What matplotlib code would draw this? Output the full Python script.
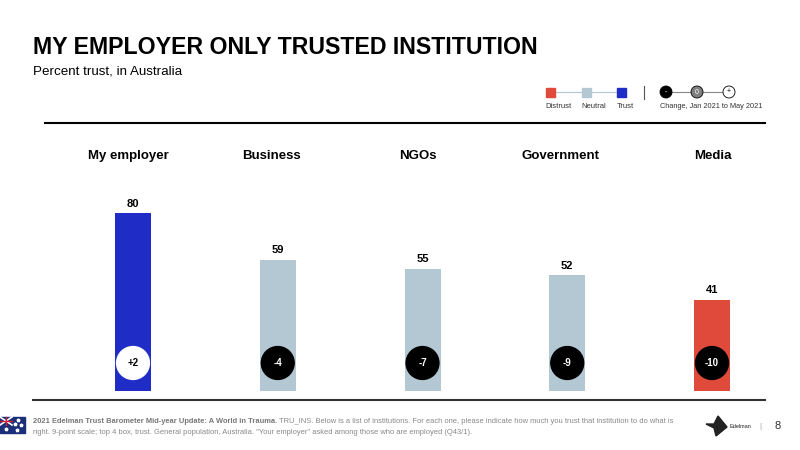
import numpy as np
import matplotlib.pyplot as plt
from matplotlib.patches import Rectangle, Circle, Polygon

plt.rcParams['font.family'] = ['Liberation Sans', 'DejaVu Sans']

categories = ['My employer', 'Business', 'NGOs', 'Government', 'Media']
trust = [80, 59, 55, 52, 41]
change = [2, -4, -7, -9, -10]
level = ['Trust', 'Neutral', 'Neutral', 'Neutral', 'Distrust']

colors = {'Distrust': '#E04A3B', 'Neutral': '#B4C8D4', 'Trust': '#1F2DC6'}

W, H = 800, 450
fig = plt.figure(figsize=(8, 4.5), dpi=100)

# overlay axes in pixel coords for decoration
deco = fig.add_axes([0, 0, 1, 1])
deco.set_xlim(0, W)
deco.set_ylim(H, 0)
deco.axis('off')

# bars axes: 2.225 px per percent, baseline at y=391
px_per = 2.225
base = 391
ax_top = 171
step = 144.75
x0 = 133 - step / 2
ax = fig.add_axes([x0 / W, (H - base) / H, 5 * step / W, (base - ax_top) / H])
ax.set_xlim(-0.5, 4.5)
ax.set_ylim(0, (base - ax_top) / px_per)
ax.axis('off')

xs = np.arange(len(categories))
ax.bar(xs, trust, width=36 / step, color=[colors[l] for l in level])
for x, v in zip(xs, trust):
    ax.text(x, v + 4.2, str(v), ha='center', va='center', fontsize=8, fontweight='bold')

circ_y = (base - 363) / px_per
face = ['white' if c > 0 else 'black' for c in change]
ax.scatter(xs, [circ_y] * len(xs), s=560, c=face, zorder=3, clip_on=False)
for x, c, f in zip(xs, change, face):
    lab = '%+d' % c if c != 0 else '0'
    ax.text(x, circ_y, lab, ha='center', va='center', fontsize=7, fontweight='bold',
            color='black' if f == 'white' else 'white', zorder=4)

# header labels sit slightly left of the bars in the original
label_x = [128.5, 271.5, 417.5, 560, 712.5]
for lx_, name in zip(label_x, categories):
    deco.text(lx_, 156, name, ha='center', va='center', fontsize=9.5, fontweight='bold')

# title
deco.text(33, 47, 'MY EMPLOYER ONLY TRUSTED INSTITUTION', ha='left', va='center',
          fontsize=16.7, fontweight='bold')
deco.text(33, 72, 'Percent trust, in Australia', ha='left', va='center', fontsize=9.6)

# rules
deco.plot([45, 765], [123, 123], color='black', lw=1.5)
deco.plot([33, 765], [400, 400], color='#333333', lw=1.5)

# legend
lx = [550, 586, 621]
deco.plot([550, 621], [92, 92], color='#B4C8D4', lw=0.8, zorder=1)
for x, key in zip(lx, ['Distrust', 'Neutral', 'Trust']):
    deco.add_patch(Rectangle((x - 4.5, 87.5), 9, 9, color=colors[key], zorder=2))
    deco.text(x - 4.5, 106, key, ha='left', va='center', fontsize=5.5, color='#333333')
deco.plot([644, 644], [86, 99], color='#555555', lw=0.8)
deco.plot([666, 729], [92, 92], color='#888888', lw=0.8, zorder=1)
for x, fc, t, tc in [(666, 'black', '-', 'white'),
                     (697, '#808080', '0', 'white'),
                     (729, 'white', '+', 'black')]:
    deco.add_patch(Circle((x, 92), 6, facecolor=fc, edgecolor='black', lw=0.6, zorder=2))
    deco.text(x, 92, t, ha='center', va='center', fontsize=5, color=tc, zorder=3)
deco.text(660, 107, 'Change, Jan 2021 to May 2021', ha='left', va='center',
          fontsize=5.35, color='#333333')

# footer: flag
deco.add_patch(Rectangle((0, 417), 25, 16, color='#1B2F7A'))
deco.plot([0, 12], [417, 425], color='white', lw=1.2)
deco.plot([0, 12], [425, 417], color='white', lw=1.2)
deco.plot([6, 6], [417, 425], color='#CC2233', lw=1)
deco.plot([0, 12], [421, 421], color='#CC2233', lw=1)
for px, py in [(6, 429), (18, 420), (21, 425), (17, 430), (15, 424)]:
    deco.plot(px, py, marker='*', color='white', ms=2.5)

fs = 5.4
t1 = deco.text(33, 421.5, '2021 Edelman Trust Barometer Mid-year Update: A World in Trauma.',
               ha='left', va='center', fontsize=fs, fontweight='bold', color='#777777')
fig.canvas.draw()
bb = t1.get_window_extent()
x_end = deco.transData.inverted().transform((bb.x1, bb.y0))[0]
deco.text(x_end + 2, 421.5, 'TRU_INS. Below is a list of institutions. For each one, please indicate how much '
          'you trust that institution to do what is', ha='left', va='center', fontsize=fs, color='#888888')
deco.text(33, 432, 'right. 9-point scale; top 4 box, trust. General population, Australia. '
          '"Your employer" asked among those who are employed (Q43/1).',
          ha='left', va='center', fontsize=fs, color='#888888')

deco.add_patch(Polygon([[706, 424], [714, 424], [718, 416], [727, 427], [716, 436], [714, 428]],
                       closed=True, color='#222222'))
deco.text(729, 426, 'Edelman', ha='left', va='center', fontsize=4, color='#222222')
deco.text(760, 426, '|', ha='center', va='center', fontsize=6, color='#999999')
deco.text(778, 426, '8', ha='center', va='center', fontsize=8, color='#333333')

fig.savefig('out.png', dpi=100)
